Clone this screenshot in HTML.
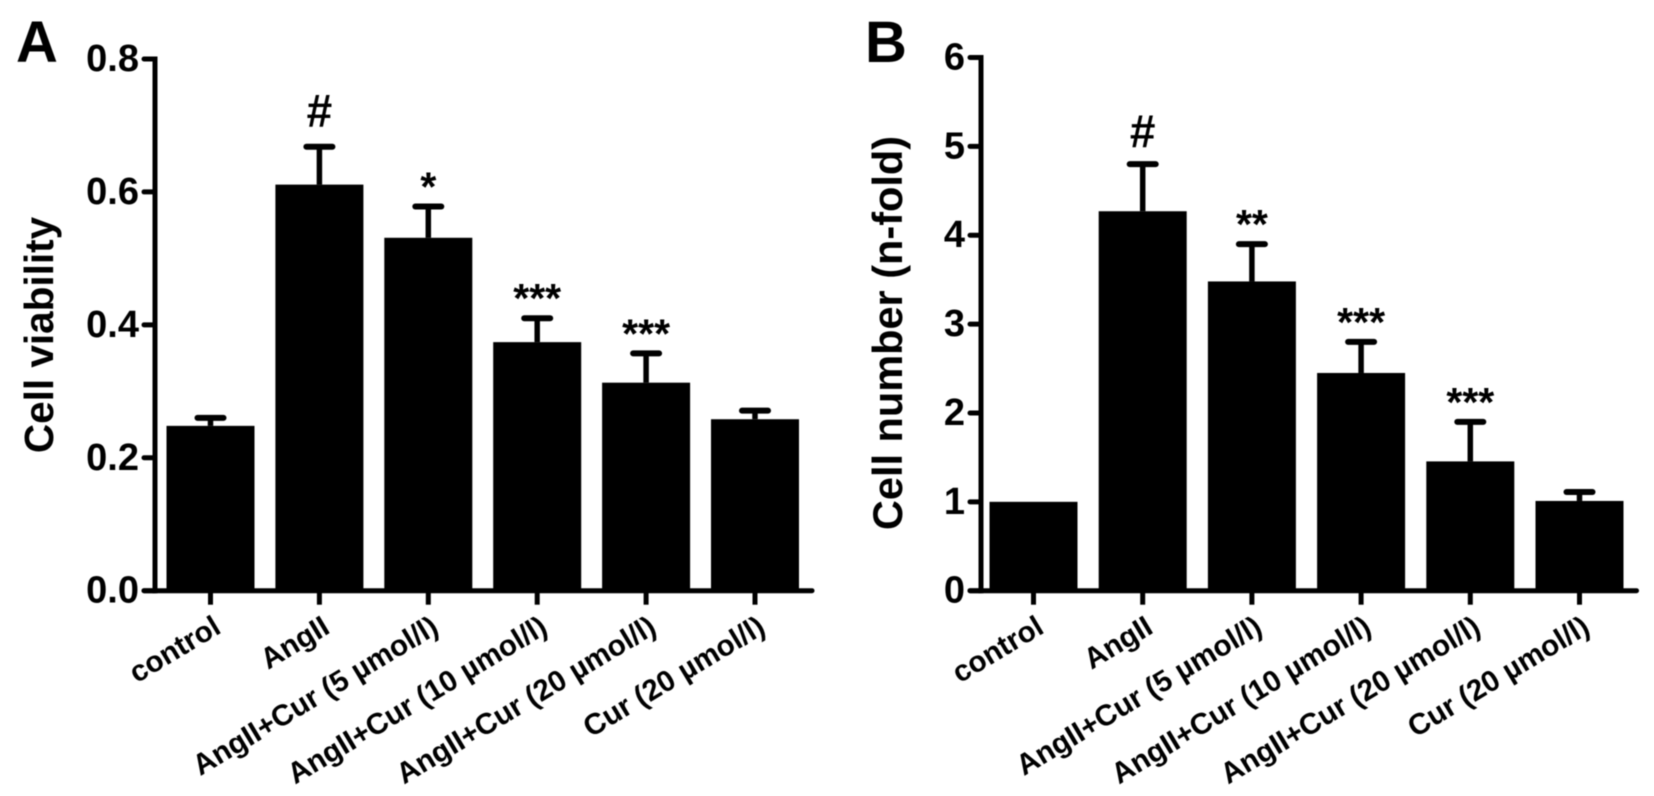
<!DOCTYPE html>
<html lang="en">
<head>
<meta charset="utf-8">
<title>Cell viability and cell number</title>
<style>
  html, body { margin: 0; padding: 0; background: #fff; }
  #figure { display: block; width: 1654px; height: 796px; background: #fff; filter: blur(0.5px); }
  text { font-family: "Liberation Sans", Arial, sans-serif; font-weight: bold; fill: #000; }
</style>
</head>
<body>
<svg id="figure" xmlns="http://www.w3.org/2000/svg" width="1654" height="796" viewBox="0 0 1654 796">
  <text x="16" y="62" font-size="58">A</text>
  <text x="865" y="62" font-size="58">B</text>
  <text transform="translate(53 335) rotate(-90)" text-anchor="middle" font-size="40.5">Cell viability</text>
  <text transform="translate(902 333) rotate(-90)" text-anchor="middle" font-size="41.5">Cell number (n-fold)</text>
  <g id="panel-a"></g>
  <g id="panel-b"></g>
</svg>
<script>
const categories = ['control', 'AngII', 'AngII+Cur (5 µmol/l)', 'AngII+Cur (10 µmol/l)', 'AngII+Cur (20 µmol/l)', 'Cur (20 µmol/l)'];

const viabilityValues = [0.248, 0.611, 0.531, 0.374, 0.313, 0.258];
const viabilityErrors = [0.012, 0.057, 0.047, 0.036, 0.044, 0.013];
const viabilityMarks = ['', '#', '*', '***', '***', ''];
const viabilityTicks = ['0.0', '0.2', '0.4', '0.6', '0.8'];

const cellValues = [1.0, 4.27, 3.48, 2.45, 1.455, 1.01];
const cellErrors = [0, 0.53, 0.42, 0.35, 0.445, 0.10];
const cellMarks = ['', '#', '**', '***', '***', ''];
const cellTicks = ['0', '1', '2', '3', '4', '5', '6'];

const NS = 'http://www.w3.org/2000/svg';
const BASE_Y = 590.7;
const BAR_WIDTH = 88;
const CAP_HALF = 13;

function make(parent, tag, attrs, content) {
  const node = document.createElementNS(NS, tag);
  Object.keys(attrs).forEach(function (k) { node.setAttribute(k, attrs[k]); });
  if (content !== undefined) node.textContent = content;
  parent.appendChild(node);
  return node;
}

function drawPanel(cfg) {
  const root = document.getElementById(cfg.id);
  const yMaxValue = parseFloat(cfg.ticks[cfg.ticks.length - 1]);
  const yScale = function (v) { return BASE_Y - (v / yMaxValue) * (BASE_Y - cfg.topY); };
  const xScale = function (i) { return cfg.firstX + i * cfg.stepX; };

  // bars, whiskers and significance marks
  cfg.values.forEach(function (value, i) {
    const cx = xScale(i);
    const top = yScale(value);
    const bar = make(root, 'rect', { x: cx - BAR_WIDTH / 2, y: top, width: BAR_WIDTH, height: BASE_Y - top, fill: '#000' });
    
    

    if (cfg.errors[i] > 0) {
      const capY = yScale(value + cfg.errors[i]);
      const stem = make(root, 'line', { x1: cx, x2: cx, y1: top, y2: capY, stroke: '#000', 'stroke-width': 5.5 });
      
      
      const cap = make(root, 'line', { x1: cx - CAP_HALF, x2: cx + CAP_HALF, y1: capY, y2: capY, stroke: '#000', 'stroke-width': 6, 'stroke-linecap': 'round' });
      
      

      if (cfg.marks[i]) {
        const isHash = cfg.marks[i] === '#';
        const markY = capY + (isHash ? cfg.hashOffset : -6);
        const mark = make(root, 'text', { x: cx, y: markY, 'text-anchor': 'middle', 'font-size': isHash ? 46 : 41 }, cfg.marks[i]);
        
        
      }
    }

    const tick = make(root, 'line', { x1: cx, x2: cx, y1: BASE_Y, y2: BASE_Y + 14, stroke: '#000', 'stroke-width': 5 });
    
    

    const lx = cx + 12;
    const ly = 632;
    const label = make(root, 'text', { x: lx, y: ly, 'text-anchor': 'end', 'font-size': 29.5, transform: 'rotate(-31 ' + lx + ' ' + ly + ')' }, categories[i]);
    
    
  });

  // axes
  const yAxis = make(root, 'line', { x1: cfg.axisX, x2: cfg.axisX, y1: cfg.topY - 2.5, y2: BASE_Y + 2.5, stroke: '#000', 'stroke-width': 5 });
  
  
  const xAxis = make(root, 'line', { x1: cfg.axisX - 11, x2: xScale(cfg.values.length - 1) + 57, y1: BASE_Y, y2: BASE_Y, stroke: '#000', 'stroke-width': 5, 'stroke-linecap': 'round' });
  
  

  cfg.ticks.forEach(function (tickText) {
    const y = yScale(parseFloat(tickText));
    const tick = make(root, 'line', { x1: cfg.axisX - 11, x2: cfg.axisX, y1: y, y2: y, stroke: '#000', 'stroke-width': 5, 'stroke-linecap': 'round' });
    
    
    const label = make(root, 'text', { x: cfg.axisX - 16, y: y + 12, 'text-anchor': 'end', 'font-size': 38 }, tickText);
    
    
  });
}

drawPanel({ id: 'panel-a', prefix: 'a', values: viabilityValues, errors: viabilityErrors, marks: viabilityMarks, ticks: viabilityTicks, axisX: 155, topY: 59, firstX: 210.5, stepX: 108.9, hashOffset: -20 });
drawPanel({ id: 'panel-b', prefix: 'b', values: cellValues, errors: cellErrors, marks: cellMarks, ticks: cellTicks, axisX: 981, topY: 57.5, firstX: 1033.5, stepX: 109.2, hashOffset: -17 });
</script>
</body>
</html>
